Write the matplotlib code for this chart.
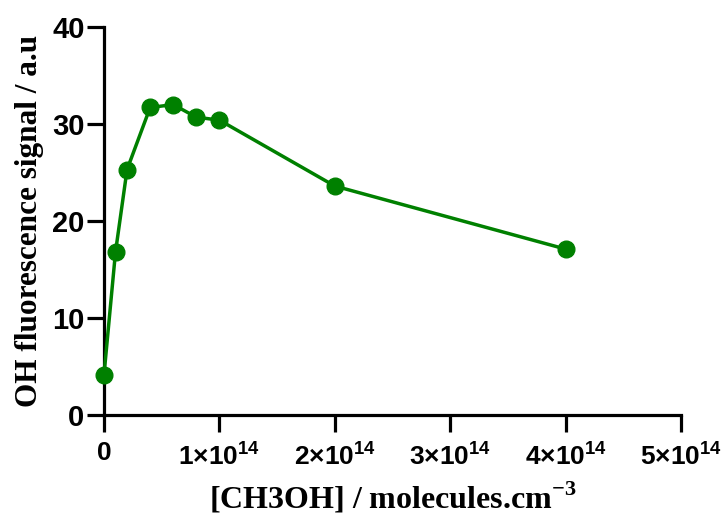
import matplotlib
matplotlib.use("Agg")
import matplotlib.pyplot as plt
from matplotlib.ticker import FixedLocator, FuncFormatter

# [CH3OH] in molecules/cm3 and OH LIF signal (a.u.)
conc = [0, 1e13, 2e13, 4e13, 6e13, 8e13, 1e14, 2e14, 4e14]
signal = [4.1, 16.8, 25.3, 31.7, 32.0, 30.7, 30.4, 23.6, 17.1]

xticks = [0, 1e14, 2e14, 3e14, 4e14, 5e14]
yticks = [0, 10, 20, 30, 40]

plt.rcParams['mathtext.fontset'] = 'custom'
plt.rcParams['mathtext.sf'] = 'Liberation Sans:bold'
plt.rcParams['mathtext.bf'] = 'Liberation Serif:bold'
plt.rcParams['mathtext.rm'] = 'Liberation Serif:bold'

fig = plt.figure(figsize=(7.27, 5.19), dpi=100)
ax = fig.add_axes([0.143, 0.2004, 0.794, 0.7476])

ax.plot(conc, signal, color='#008000', lw=2.5, marker='o', ms=12, clip_on=False, zorder=3)

ax.set_xlim(0, 5e14)
ax.set_ylim(0, 40)

def xfmt(v, pos):
    if v == 0:
        return '0'
    return r'%d×10$^{\mathsf{14}}$' % round(v / 1e14)

ax.xaxis.set_major_locator(FixedLocator(xticks))
ax.xaxis.set_major_formatter(FuncFormatter(xfmt))
ax.yaxis.set_major_locator(FixedLocator(yticks))

for s in ['top', 'right']:
    ax.spines[s].set_visible(False)
for s in ['left', 'bottom']:
    ax.spines[s].set_linewidth(2.3)

ax.tick_params(width=2.3, length=12, direction='out', labelsize=21)
ax.tick_params(axis='x', pad=7, labelsize=19)
ax.tick_params(axis='y', pad=2)
for lab in ax.get_xticklabels() + ax.get_yticklabels():
    lab.set_family('Liberation Sans')
    lab.set_fontweight('bold')

ax.set_xlabel(r'[CH3OH] / molecules.cm$^{\mathbf{-3}}$', family='Liberation Serif',
              fontweight='bold', fontsize=23, labelpad=8)
ax.set_ylabel('OH fluorescence signal / a.u', family='Liberation Serif',
              fontweight='bold', fontsize=22.5, labelpad=6)

fig.savefig('out.png', dpi=100)
